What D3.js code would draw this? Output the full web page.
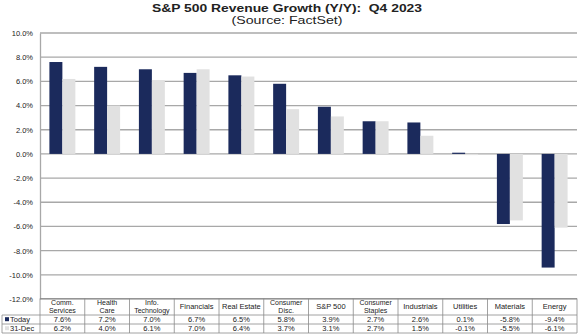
<!doctype html>
<html lang="en">
<head>
  <meta charset="utf-8">
  <title>S&amp;P 500 Revenue Growth</title>
  <script src="https://cdn.jsdelivr.net/npm/d3@7"></script>
  <style>
    body { margin: 0; background: #fff; }
    text { font-family: "Liberation Sans", Arial, sans-serif; fill: #222; white-space: pre; }
  </style>
</head>
<body>
  <div id="container"></div>
<script>
  // data
  const categories = [
    ['Comm.', 'Services'], ['Health', 'Care'], ['Info.', 'Technology'], ['Financials'],
    ['Real Estate'], ['Consumer', 'Disc.'], ['S&P 500'], ['Consumer', 'Staples'],
    ['Industrials'], ['Utilities'], ['Materials'], ['Energy']
  ];
  const today = [7.6, 7.2, 7.0, 6.7, 6.5, 5.8, 3.9, 2.7, 2.6, 0.1, -5.8, -9.4];
  const dec31 = [6.2, 4.0, 6.1, 7.0, 6.4, 3.7, 3.1, 2.7, 1.5, -0.1, -5.5, -6.1];
  const seriesNames = ['Today', '31-Dec'];
  const yTicks = [10, 8, 6, 4, 2, 0, -2, -4, -6, -8, -10, -12];

  const W = 580, H = 336;
  const plot = { left: 40, right: 577, top: 33, bottom: 299 };
  const colors = ['#1b2a5c', '#e1e1e1'];

  const svg = d3.select('#container').append('svg')
    .attr('width', W).attr('height', H);

  const x = d3.scaleBand()
    .domain(d3.range(categories.length))
    .range([plot.left, plot.right])
    .paddingInner(0.42)
    .paddingOuter(0.21);
  const x1 = d3.scaleBand().domain([0, 1]).range([0, x.bandwidth()]);
  const y = d3.scaleLinear().domain([-12, 10]).range([plot.bottom, plot.top]);

  // plain hyphen for negatives, like the original
  const pct = d3.formatLocale({ decimal: '.', thousands: ',', grouping: [3], currency: ['', ''], minus: '-' }).format('.1f');

  // title
  svg.append('text')
    .attr('x', 287).attr('y', 12)
    .attr('text-anchor', 'middle')
    .style('font-size', '11.5px').style('font-weight', 'bold')
    .attr('textLength', 270).attr('lengthAdjust', 'spacingAndGlyphs')
    .text('S&P 500 Revenue Growth (Y/Y):  Q4 2023');
  svg.append('text')
    .attr('x', 287).attr('y', 24)
    .attr('text-anchor', 'middle')
    .style('font-size', '10.5px')
    .attr('textLength', 111).attr('lengthAdjust', 'spacingAndGlyphs')
    .text('(Source: FactSet)');

  // gridlines
  svg.append('g').selectAll('line')
    .data(yTicks)
    .enter().append('line')
    .attr('x1', plot.left).attr('x2', plot.right)
    .attr('y1', d => y(d)).attr('y2', d => y(d))
    .style('stroke', '#a8a8a8').style('stroke-width', 1.3);

  // y axis
  const yAxis = d3.axisLeft(y)
    .tickValues(yTicks)
    .tickSize(0)
    .tickPadding(7)
    .tickFormat(d => pct(d) + '%');
  const ya = svg.append('g')
    .attr('transform', `translate(${plot.left},0)`)
    .call(yAxis);
  ya.select('.domain').style('stroke', '#a8a8a8').style('stroke-width', 1.3);
  ya.selectAll('text')
    .style('font-size', '7.5px')
    .style('font-family', '"Liberation Sans", Arial, sans-serif')
    .attr('fill', '#333');

  // bars
  const series = [today, dec31];
  series.forEach((vals, s) => {
    svg.append('g').selectAll('rect')
      .data(vals)
      .enter().append('rect')
      .attr('x', (d, i) => x(i) + x1(s))
      .attr('width', x1.bandwidth())
      .attr('y', d => y(Math.max(0, d)))
      .attr('height', d => Math.abs(y(d) - y(0)))
      .style('fill', colors[s]);
  });

  // data table
  const step = x.step();
  const colX = i => plot.left + i * step;
  const rows = [298.5, 315, 324, 333];
  const tbl = svg.append('g').style('stroke', '#8a8a8a').style('stroke-width', 0.8);
  tbl.selectAll('.h').data(rows).enter().append('line')
    .attr('x1', (d, i) => i === 0 ? plot.left : 2).attr('x2', plot.right)
    .attr('y1', d => d).attr('y2', d => d);
  tbl.selectAll('.v').data(d3.range(categories.length + 1)).enter().append('line')
    .attr('x1', colX).attr('x2', colX)
    .attr('y1', rows[0]).attr('y2', rows[3]);
  tbl.append('line').attr('x1', 2).attr('x2', 2).attr('y1', rows[1]).attr('y2', rows[3]);

  // header labels, one text per line
  const head = svg.append('g');
  categories.forEach((lines, i) => {
    const cx = colX(i) + step / 2;
    const mid = (rows[0] + rows[1]) / 2;
    lines.forEach((ln, k) => {
      head.append('text')
        .attr('x', cx)
        .attr('y', mid + 2.5 + (k - (lines.length - 1) / 2) * 7.8)
        .attr('text-anchor', 'middle')
        .style('font-size', lines.length > 1 ? '7px' : '7.5px')
        .text(ln);
    });
  });

  // value rows
  series.forEach((vals, s) => {
    const yy = (rows[s + 1] + rows[s + 2]) / 2 + 2.7;
    svg.append('g').selectAll('text')
      .data(vals)
      .enter().append('text')
      .attr('x', (d, i) => colX(i) + step / 2)
      .attr('y', yy)
      .attr('text-anchor', 'middle')
      .style('font-size', '7.5px')
      .text(d => pct(d) + '%');
    svg.append('rect')
      .attr('x', 5).attr('y', yy - 5).attr('width', 4).attr('height', 4)
      .style('fill', colors[s]);
    svg.append('text')
      .attr('x', 10).attr('y', yy)
      .style('font-size', '7.5px')
      .text(seriesNames[s]);
  });
</script>
</body>
</html>
